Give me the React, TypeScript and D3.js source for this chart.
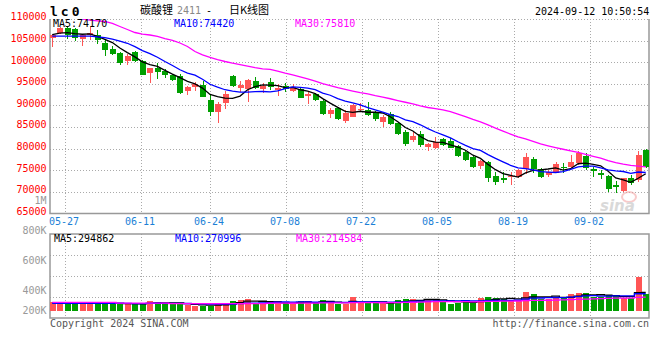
import * as d3 from "d3";
import { useEffect, useRef } from "react";

// 交易日（05-23 ~ 09-12）
const dates = [
  "05-23", "05-24", "05-27", "05-28", "05-29", "05-30", "05-31", "06-03", "06-04", "06-05",
  "06-06", "06-07", "06-11", "06-12", "06-13", "06-14", "06-17", "06-18", "06-19", "06-20",
  "06-21", "06-24", "06-25", "06-26", "06-27", "06-28", "07-01", "07-02", "07-03", "07-04",
  "07-05", "07-08", "07-09", "07-10", "07-11", "07-12", "07-15", "07-16", "07-17", "07-18",
  "07-19", "07-22", "07-23", "07-24", "07-25", "07-26", "07-29", "07-30", "07-31", "08-01",
  "08-02", "08-05", "08-06", "08-07", "08-08", "08-09", "08-12", "08-13", "08-14", "08-15",
  "08-16", "08-19", "08-20", "08-21", "08-22", "08-23", "08-26", "08-27", "08-28", "08-29",
  "08-30", "09-02", "09-03", "09-04", "09-05", "09-06", "09-09", "09-10", "09-11", "09-12",
];

const opens = [
  105580, 106810, 107960, 107730, 105460, 106270, 106200, 104310, 103100, 102150,
  100300, 102380, 100250, 97410, 98520, 97940, 96900, 96740, 93420, 94170,
  94700, 91230, 88520, 90600, 96850, 94070, 93770, 95620, 93700, 95320,
  93610, 94470, 93380, 93700, 92150, 92680, 91060, 87920, 89300, 86430,
  87360, 88840, 88910, 88520, 86200, 87920, 85900, 83820, 81970, 83350,
  80280, 80040, 82200, 81800, 80510, 79260, 78080, 75950, 76870, 73700,
  73100, 73330, 73330, 75180, 77500, 75180, 73860, 74400, 75780, 75780,
  76710, 78330, 75180, 74260, 73630, 71480, 70160, 73100, 72710, 79650,
];
const highs = [
  106570, 108240, 108120, 107960, 106390, 108240, 107360, 105050, 103730, 102340,
  101920, 102680, 100420, 98700, 99680, 98400, 97310, 97180, 94470, 95280,
  95690, 92380, 90830, 93380, 97080, 95620, 96090, 96620, 95230, 96390,
  94930, 95090, 94930, 94300, 93010, 92920, 91390, 89300, 89670, 88910,
  90230, 90460, 90690, 88750, 87750, 88520, 86200, 84280, 83890, 84120,
  81200, 82730, 82500, 82360, 80810, 79650, 78490, 77340, 77100, 74560,
  74490, 74630, 75180, 79030, 78100, 75410, 75020, 76940, 76710, 78490,
  79420, 78890, 75780, 75020, 73860, 72470, 73240, 73860, 79490, 79880,
];
const lows = [
  103500, 106620, 105280, 104880, 103730, 105120, 104260, 101300, 101530, 99330,
  99330, 99910, 96900, 95090, 96160, 96430, 95620, 92680, 92450, 93420,
  91850, 87590, 85970, 89070, 94300, 93150, 90690, 93700, 92920, 93540,
  92220, 93010, 93010, 91620, 90300, 91060, 87750, 86990, 86600, 85970,
  87220, 88520, 87520, 86360, 84910, 85440, 83120, 80580, 81570, 80280,
  79490, 79810, 80650, 80040, 78100, 77100, 75550, 75250, 72360, 71550,
  71940, 71550, 73100, 74090, 74260, 73100, 73330, 74260, 74260, 75410,
  76180, 75020, 73400, 72870, 69930, 69770, 70000, 71550, 72310, 75410,
];
const closes = [
  106340, 107960, 106200, 105580, 106160, 106740, 105050, 102800, 101870, 99860,
  101410, 100140, 97010, 98630, 97750, 96900, 95810, 92920, 94280, 94930,
  91990, 88520, 90300, 92610, 94540, 94700, 95860, 93930, 94540, 94300,
  94070, 93700, 94170, 91760, 92680, 91230, 87920, 88910, 86830, 88150,
  90070, 89140, 87750, 86830, 87290, 85740, 83350, 81040, 82890, 80810,
  81040, 81500, 80810, 80110, 78260, 77340, 75720, 77100, 73170, 72170,
  72870, 73630, 75020, 78100, 75180, 73330, 74630, 76340, 75410, 76940,
  79030, 75410, 74860, 73790, 70620, 71250, 73100, 72080, 78490, 75780,
];
const volumes = [
  133000, 128000, 117000, 117000, 117000, 117000, 117000, 117000, 117000, 112000,
  107000, 107000, 107000, 155000, 139000, 107000, 107000, 123000, 91000, 75000,
  75000, 80000, 123000, 123000, 155000, 171000, 187000, 128000, 117000, 117000,
  155000, 117000, 107000, 155000, 155000, 117000, 171000, 142000, 100000, 112000,
  219000, 117000, 139000, 117000, 117000, 117000, 171000, 187000, 187000, 171000,
  187000, 171000, 144000, 107000, 128000, 155000, 128000, 203000, 219000, 203000,
  187000, 171000, 171000, 299000, 267000, 187000, 187000, 219000, 203000, 267000,
  283000, 283000, 219000, 224000, 245000, 235000, 208000, 208000, 544000, 267000,
];

// 窗口未满时的均线值（读自图中）
const ma5Lead = [106350, 106700, 106800, 106600];
const ma10Lead = [106000, 106000, 106000, 106000, 106000, 106000, 105850, 105650, 105300];
const ma30Lead = [
  110500, 110400, 110300, 110200, 110000, 109700, 109560, 109400, 108940, 108240,
  107550, 106850, 106500, 106270, 105930, 105460, 105050, 104420, 103610, 102450,
  101690, 101110, 100600, 100140, 99740, 99400, 99050, 98730, 98450,
];
const volMa5Lead = [125000, 125000, 120000, 120000];
const volMa10Lead = [118000, 118000, 118000, 118000, 118000, 118000, 118000, 118000, 118000];
const volMa30Lead = [
  134000, 134000, 134000, 134000, 134000, 134000, 134000, 134000, 134000, 120000,
  120000, 120000, 120000, 120000, 120000, 120000, 112000, 112000, 112000, 112000,
  112000, 112000, 112000, 112000, 112000, 112000, 112000, 112000, 112000,
];

const priceTicks = [110000, 105000, 100000, 95000, 90000, 85000, 80000, 75000, 70000, 65000];
const volTicks = [800000, 600000, 400000, 200000];
const dateTicks = ["05-27", "06-11", "06-24", "07-08", "07-22", "08-05", "08-19", "09-02"];
const priceMaLabels = ["MA5:74170", "MA10:74420", "MA30:75810"];
const volMaLabels = ["MA5:294862", "MA10:270996", "MA30:214584"];
const maColors = ["#000000", "#0000ff", "#ff00ff"];

const UP = "#ff5555";
const DOWN = "#009f00";
const MONO = "'DejaVu Sans Mono', monospace";

const movingAverage = (values: number[], n: number, lead: number[]) =>
  values.map((_, i) => (i < n - 1 ? lead[i] : (d3.mean(values.slice(i - n + 1, i + 1)) as number)));

const App = () => {
  const chartRef = useRef<SVGSVGElement>(null);

  useEffect(() => {
    const svg = d3.select(chartRef.current);
    svg.selectAll("*").remove();

    // шкалы
    const x = d3.scaleBand<string>().domain(dates).range([48.5, 649.5]);
    const gridX = d3.scaleBand<string>().domain(dates).range([46.3, 654.3]);
    const cx = (d: string) => (x(d) as number) + x.bandwidth() / 2;
    const gx = (d: string) => Math.round((gridX(d) as number) + gridX.bandwidth() / 2) + 0.5;
    const y = d3.scaleLinear().domain([65000, 110000]).range([213.3, 18.9]);
    const yVol = d3.scaleLinear().domain([0, 1000000]).range([310.7, 248.2]);
    const yVolLabel = d3.scaleLinear().domain([200000, 400000, 800000]).range([314, 294, 234]);
    const volRows = d3.scaleLinear().domain([0, 4]).range([234, 318]);

    const left = 50, right = 649;
    const priceTop = 19, priceBottom = 213.5;
    const volTop = 234, volBottom = 318;

    // сетка
    const grid = svg.append("g")
      .attr("stroke", "#aaa")
      .attr("stroke-dasharray", "1,2")
      .attr("shape-rendering", "crispEdges");
    grid.selectAll(".hp")
      .data(priceTicks.slice(0, -1))
      .enter().append("line")
      .attr("x1", left).attr("x2", right)
      .attr("y1", d => Math.round(y(d)) + 0.5)
      .attr("y2", d => Math.round(y(d)) + 0.5);
    grid.selectAll(".vp")
      .data(dateTicks)
      .enter().append("line")
      .attr("x1", d => gx(d)).attr("x2", d => gx(d))
      .attr("y1", priceTop).attr("y2", priceBottom);
    grid.selectAll(".hv")
      .data([1, 2, 3])
      .enter().append("line")
      .attr("x1", left).attr("x2", right)
      .attr("y1", d => Math.round(volRows(d)) + 0.5)
      .attr("y2", d => Math.round(volRows(d)) + 0.5);
    grid.selectAll(".vv")
      .data(dateTicks)
      .enter().append("line")
      .attr("x1", d => gx(d)).attr("x2", d => gx(d))
      .attr("y1", volTop).attr("y2", volBottom);

    // рамки
    const frame = svg.append("g")
      .attr("stroke", "#999")
      .attr("stroke-width", 1.5)
      .attr("fill", "none");
    frame.append("path")
      .attr("d", `M${left},${priceTop}V${priceBottom}H${right}V${priceTop}`);
    frame.append("rect")
      .attr("x", left).attr("y", volTop)
      .attr("width", right - left).attr("height", volBottom - volTop);

    // клип для свечей
    svg.append("clipPath").attr("id", "price-clip")
      .append("rect")
      .attr("x", left).attr("y", priceTop)
      .attr("width", right - left).attr("height", priceBottom - priceTop);

    const plot = svg.append("g").attr("clip-path", "url(#price-clip)");

    // свечи
    const candles = plot.selectAll(".candle")
      .data(dates)
      .enter().append("g")
      .attr("fill", (_, i) => (closes[i] >= opens[i] ? UP : DOWN))
      .attr("stroke", (_, i) => (closes[i] >= opens[i] ? UP : DOWN))
      .attr("shape-rendering", "crispEdges");
    candles.append("line")
      .attr("x1", d => Math.round(cx(d)) + 0.5)
      .attr("x2", d => Math.round(cx(d)) + 0.5)
      .attr("y1", (_, i) => y(highs[i]))
      .attr("y2", (_, i) => y(lows[i]));
    candles.append("rect")
      .attr("stroke", "none")
      .attr("x", d => Math.round(cx(d) - 2.5))
      .attr("width", 6)
      .attr("y", (_, i) => y(Math.max(opens[i], closes[i])))
      .attr("height", (_, i) => Math.max(1.2, Math.abs(y(opens[i]) - y(closes[i]))));

    // средние
    const priceMas = [
      movingAverage(closes, 5, ma5Lead),
      movingAverage(closes, 10, ma10Lead),
      movingAverage(closes, 30, ma30Lead),
    ];
    const priceLine = d3.line<number>()
      .x((_, i) => cx(dates[i]))
      .y(v => y(v));
    plot.selectAll(".ma")
      .data(priceMas)
      .enter().append("path")
      .attr("fill", "none")
      .attr("stroke", (_, k) => maColors[k])
      .attr("stroke-width", 1.3)
      .attr("d", d => priceLine(d));

    // объёмы
    svg.append("g")
      .selectAll("rect")
      .data(dates)
      .enter().append("rect")
      .attr("shape-rendering", "crispEdges")
      .attr("fill", (_, i) => (closes[i] >= opens[i] ? UP : DOWN))
      .attr("x", d => Math.round(cx(d) - 2.5))
      .attr("width", 6)
      .attr("y", (_, i) => yVol(volumes[i]))
      .attr("height", (_, i) => yVol(0) - yVol(volumes[i]));

    const volMas = [
      movingAverage(volumes, 5, volMa5Lead),
      movingAverage(volumes, 10, volMa10Lead),
      movingAverage(volumes, 30, volMa30Lead),
    ];
    const volLine = d3.line<number>()
      .x((_, i) => cx(dates[i]))
      .y(v => yVol(v))
      .curve(d3.curveStep);
    svg.append("g")
      .selectAll("path")
      .data(volMas)
      .enter().append("path")
      .attr("fill", "none")
      .attr("stroke", (_, k) => maColors[k])
      .attr("stroke-width", 1.3)
      .attr("d", d => volLine(d));

    // подписи осей
    const text = svg.append("g").style("font-family", MONO).style("font-size", "10px");
    text.selectAll(".py")
      .data(priceTicks)
      .enter().append("text")
      .attr("x", 46.5)
      .attr("y", d => y(d) + 1.5)
      .attr("text-anchor", "end")
      .attr("fill", "#ff0000")
      .text(d => d);
    text.append("text")
      .attr("x", 46.5).attr("y", 204)
      .attr("text-anchor", "end")
      .attr("fill", "#999")
      .text("1M");
    text.selectAll(".dx")
      .data(dateTicks)
      .enter().append("text")
      .attr("x", d => gx(d) - 1.5)
      .attr("y", 224.5)
      .attr("text-anchor", "middle")
      .attr("fill", "#1c7fd6")
      .text(d => d);
    text.selectAll(".vy")
      .data(volTicks)
      .enter().append("text")
      .attr("x", 46.5)
      .attr("y", d => yVolLabel(d))
      .attr("text-anchor", "end")
      .attr("fill", "#999")
      .text(d => `${d / 1000}K`);

    // легенды MA
    const legendX = [53, 174, 295];
    text.selectAll(".pl")
      .data(priceMaLabels)
      .enter().append("text")
      .attr("x", (_, k) => legendX[k])
      .attr("y", 27)
      .attr("fill", (_, k) => maColors[k])
      .text(d => d);
    text.selectAll(".vl")
      .data(volMaLabels)
      .enter().append("text")
      .attr("x", (_, k) => legendX[k] + 1)
      .attr("y", 242)
      .attr("fill", (_, k) => maColors[k])
      .text(d => d);

    // заголовок
    svg.append("text")
      .attr("x", 50).attr("y", 16)
      .style("font-family", MONO).style("font-size", "13px").style("font-weight", "bold")
      .attr("letter-spacing", 3)
      .text("lc0");
    const title = svg.append("g").style("font-size", "11px");
    title.append("text").attr("x", 140).attr("y", 14)
      .style("font-family", "'Noto Sans CJK SC'").text("碳酸锂");
    title.append("text").attr("x", 177).attr("y", 14)
      .style("font-family", MONO).style("font-size", "10px").attr("fill", "#888").text("2411");
    title.append("text").attr("x", 206).attr("y", 14)
      .style("font-family", MONO).style("font-size", "10px").text("-");
    title.append("text").attr("x", 229).attr("y", 14)
      .style("font-family", "'Noto Sans CJK SC'").text("日K线图");
    text.append("text")
      .attr("x", 535).attr("y", 15)
      .attr("fill", "#000")
      .text("2024-09-12 10:50:54");

    // низ
    text.append("text")
      .attr("x", 50).attr("y", 327)
      .attr("fill", "#555")
      .text("Copyright 2024 SINA.COM");
    text.append("text")
      .attr("x", 649).attr("y", 327)
      .attr("text-anchor", "end")
      .attr("fill", "#555")
      .text("http://finance.sina.com.cn");

    // водяной знак
    const mark = svg.append("g").attr("opacity", 0.55);
    mark.append("ellipse")
      .attr("cx", 629).attr("cy", 197).attr("rx", 7).attr("ry", 5)
      .attr("fill", "none").attr("stroke", "#f3a0a0").attr("stroke-width", 2);
    mark.append("text")
      .attr("x", 600).attr("y", 211)
      .style("font-family", "'DejaVu Sans'").style("font-size", "15px")
      .style("font-weight", "bold").style("font-style", "italic")
      .attr("fill", "#bbb")
      .text("sina");
  }, []);

  return (
    <svg
      ref={chartRef}
      width={660}
      height={360}
      style={{ position: "absolute", left: 0, top: 0, background: "#fff" }}
    ></svg>
  );
};

export default App;
